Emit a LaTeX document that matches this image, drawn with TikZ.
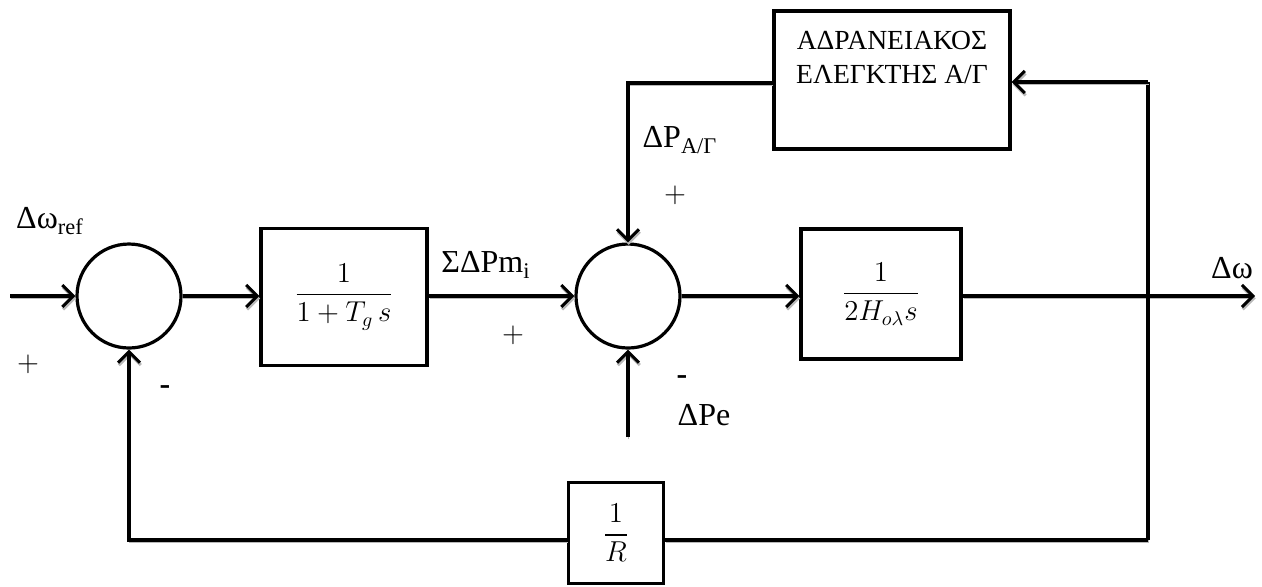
\documentclass[tikz,border=0pt]{standalone}
\usepackage{amsmath}
\usepackage{fontspec}
\setmainfont{Liberation Serif}
\usepackage{tikz}
\usetikzlibrary{arrows.meta, calc, positioning}

\tikzset{
    blk/.style={draw, line width=1.7pt, rectangle, inner sep=0pt},
    sumnode/.style={draw, line width=1.6pt, circle, minimum size=52pt, inner sep=0pt},
    shade/.style={preaction={draw=gray!55, transform canvas={shift={(0.4pt,-1.2pt)}}}},
    wire/.style={line width=1.9pt, shade},
    sig/.style={line width=1.9pt, shade, -{Straight Barb[length=5.5pt, width=11pt, line width=1.5pt]}},
    lbl/.style={font=\fontsize{16}{18}\selectfont, inner sep=0pt},
    sgn/.style={font=\fontsize{14}{16}\selectfont, inner sep=0pt},
}

\begin{document}
\begin{tikzpicture}[x=0.5pt, y=-0.5pt]
    \useasboundingbox (0,0) rectangle (1262,586);
    % blocks
    \node[sumnode] (sumA) at (129,296) {};
    \node[blk, minimum width=83pt, minimum height=68.5pt] (gov) at (344,297) {\Large$\dfrac{1}{1+T_g\,s}$};
    \node[sumnode] (sumB) at (628,296) {};
    \node[blk, minimum width=80pt, minimum height=65pt] (inertia) at (881,294) {\Large$\dfrac{1}{2H_{o\lambda}s}$};
    \node[blk, minimum width=118pt, minimum height=69pt] (ctrl) at (892,80) {};
    \node[anchor=north, align=center, inner sep=0pt, font=\fontsize{13.8}{17}\selectfont] (ctrltxt) at ([yshift=-11pt]ctrl.north) {ΑΔΡΑΝΕΙΑΚΟΣ\\ΕΛΕΓΚΤΗΣ Α/Γ};
    \node[blk, minimum width=47.5pt, minimum height=50.5pt] (droop) at (616,533) {\Large$\dfrac{1}{R}$};

    % points
    \coordinate (in) at (10,296);
    \coordinate (out) at (1255,296);
    \coordinate (taptop) at (1148,82);
    \coordinate (tapbot) at (1148,540);
    \coordinate (corner) at (628,83);
    \coordinate (pe) at (628,437);

    % forward path
    \draw[sig] (in) -- (sumA.west);
    \draw[sig] (sumA.east) -- (gov.west |- sumA);
    \draw[sig] (gov.east |- sumB) -- (sumB.west);
    \draw[sig] (sumB.east) -- (inertia.west |- sumB);
    \draw[sig] (inertia.east |- out) -- (out);
    \draw[sig] (pe) -- (sumB.south);

    % feedback paths
    \draw[wire] (taptop) -- (tapbot);
    \draw[sig] (taptop) -- (ctrl.east |- taptop);
    \draw[sig] (ctrl.west |- corner) -- (corner) -- (sumB.north);
    \draw[wire] (tapbot) -- (tapbot -| droop.east);
    \draw[sig] (droop.west |- tapbot) -- (sumA |- tapbot) -- (sumA.south);

    % labels
    \node[lbl] (lref) at (50,221) {Δω\textsubscript{ref}};
    \node[sgn] (pA) at (28,364) {$+$};
    \node[lbl] (mA) at (165,390) {\textbf{-}};
    \node[lbl] (lpm) at (486,265) {ΣΔPm\textsubscript{i}};
    \node[sgn] (pB) at (513,335) {$+$};
    \node[lbl] (lpag) at (680,140) {ΔP\textsubscript{Α/Γ}};
    \node[sgn] (pC) at (675,195) {$+$};
    \node[lbl] (mB) at (682,380) {\textbf{-}};
    \node[lbl] (lpe) at (704,415) {ΔPe};
    \node[lbl] (lw) at (1232,268) {Δω};
\end{tikzpicture}
\end{document}
